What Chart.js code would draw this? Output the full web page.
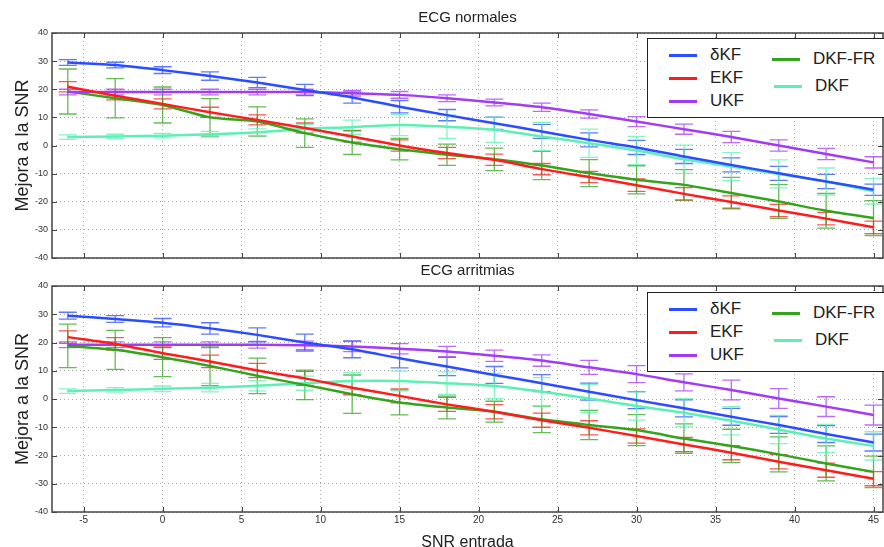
<!DOCTYPE html>
<html>
<head>
<meta charset="utf-8">
<script src="https://cdn.jsdelivr.net/npm/chart.js@4.4.1/dist/chart.umd.min.js"></script>
<style>
  html, body { margin: 0; padding: 0; background: #fff; }
  #wrap { position: relative; width: 884px; height: 547px; overflow: hidden; font-family: "Liberation Sans", Arial, sans-serif; }
  #wrap canvas { position: absolute; left: 0; top: 0; }
  .legend { position: absolute; left: 647px; width: 250px; height: 78px; border: 1px solid #222; background: #fff; }
  .item { position: absolute; font-size: 17px; color: #222; line-height: 20px; }
  .item span.ln { display: inline-block; width: 28px; height: 3px; vertical-align: middle; margin-right: 13px; }
</style>
</head>
<body>
<div id="wrap">
  <canvas id="top" width="884" height="547"></canvas>
  <canvas id="bot" width="884" height="547"></canvas>
</div>
<script>
const snr = [-6, -3, 0, 3, 6, 9, 12, 15, 18, 21, 24, 27, 30, 33, 36, 39, 42, 45];
const seriesNames = ['δKF', 'EKF', 'UKF', 'DKF-FR', 'DKF'];
const colors = ['#2b4cff', '#ff1c1c', '#a23cf4', '#34a41c', '#5cf0b4'];

// ECG normales
const dKF_n   = [29.5, 28.6, 26.8, 24.7, 22.4, 19.7, 17.1, 13.8, 10.8, 7.9, 5.0, 2.0, -0.7, -3.9, -6.9, -9.9, -12.8, -15.7];
const EKF_n   = [20.9, 17.7, 14.8, 11.8, 9.1, 6.2, 3.2, 0.0, -2.7, -5.1, -8.4, -11.2, -14.1, -17.2, -20.1, -23.1, -26.0, -29.1];
const UKF_n   = [19.0, 19.0, 19.0, 19.0, 19.0, 19.0, 18.6, 18.0, 16.8, 15.3, 13.6, 11.2, 8.5, 5.8, 3.0, 0.0, -3.0, -6.0];
const DKFFR_n = [19.2, 16.8, 14.4, 10.0, 8.5, 4.4, 1.1, -1.3, -3.3, -4.9, -7.1, -9.8, -12.2, -14.0, -16.9, -19.9, -23.2, -25.8];
const DKF_n   = [3.0, 3.2, 3.5, 4.0, 4.7, 5.9, 6.5, 7.3, 6.7, 5.6, 3.2, 0.8, -1.8, -4.9, -7.5, -10.1, -12.8, -16.3];
const err_dKF_n   = [1, 1, 1.2, 1.5, 1.8, 2, 2, 2.2, 2, 2.2, 2.5, 2.5, 2.5, 2.5, 2.5, 2.5, 2.5, 2];
const err_EKF_n   = [1.8, 1.5, 1.8, 1.8, 1.8, 1.8, 2, 2, 2, 2, 2, 2, 2.2, 2.2, 2.2, 2.2, 2.2, 2.2];
const err_UKF_n   = [1, 1, 1, 1, 1, 1, 1, 1.2, 1.2, 1.2, 1.5, 1.5, 1.8, 1.8, 2, 2, 2, 2];
const err_DKFFR_n = [8, 7, 6.4, 6.7, 5.2, 5.1, 4.3, 3.8, 3.8, 4, 5, 4.8, 5, 5.4, 5.6, 6, 6.2, 6.2];
const err_DKF_n   = [0.8, 0.8, 0.8, 1, 1.2, 1.5, 2.5, 3.8, 4.2, 4.5, 5, 5, 5, 5, 5, 5, 4.8, 4.5];

// ECG arritmias
const dKF_a   = [29.5, 28.3, 27.0, 25.0, 22.7, 20.0, 17.6, 14.4, 11.5, 8.5, 5.6, 2.6, -0.4, -3.3, -6.3, -9.2, -12.4, -15.4];
const EKF_a   = [21.9, 19.5, 16.2, 13.3, 10.1, 7.3, 4.0, 1.1, -1.9, -4.5, -7.5, -10.2, -13.1, -16.1, -19.0, -22.2, -25.2, -28.2];
const UKF_a   = [19.2, 19.2, 19.2, 19.2, 19.2, 19.0, 18.6, 17.8, 16.8, 15.3, 13.6, 11.2, 8.8, 5.9, 3.2, 0.2, -2.7, -5.7];
const DKFFR_a = [18.8, 17.4, 14.8, 11.7, 8.2, 5.0, 1.7, -1.2, -3.0, -4.5, -7.2, -9.2, -11.0, -14.0, -16.6, -19.6, -22.8, -25.8];
const DKF_a   = [2.8, 3.2, 3.6, 4.0, 4.7, 5.6, 6.4, 6.4, 5.6, 4.6, 2.6, 0.2, -2.5, -4.9, -7.7, -10.8, -14.0, -16.6];
const err_dKF_a   = [1.2, 1.2, 1.5, 2, 2.5, 3, 3, 3.4, 3.2, 3, 3, 3, 3, 3, 3, 3, 3, 3];
const err_EKF_a   = [2.2, 2.2, 2.2, 2.2, 2.5, 2.5, 2.5, 2.5, 2.5, 2.5, 2.5, 2.5, 2.5, 2.5, 2.5, 2.5, 2.5, 2.5];
const err_UKF_a   = [1, 1, 1, 1, 1.2, 1.5, 1.8, 1.8, 1.8, 2, 2, 2.5, 3, 3, 3.5, 3.5, 3.5, 3.5];
const err_DKFFR_a = [7.7, 6.9, 6.9, 7, 6.3, 5.2, 6.8, 4.4, 4, 3.7, 4.7, 5.2, 5.5, 5.2, 5.9, 6.2, 6.2, 5.6];
const err_DKF_a   = [0.8, 0.8, 1, 1.5, 1.8, 2.5, 3, 3.5, 4, 4.5, 5, 5, 5, 5, 5, 5, 5, 5];

const FONT = '"Liberation Sans", Arial, sans-serif';

// error bars, frame, inward ticks and the subplot title
const matlabLook = {
  id: 'matlabLook',
  beforeDatasetsDraw(chart) {
    const ctx = chart.ctx, xs = chart.scales.x, ys = chart.scales.y;
    ctx.save();
    chart.data.datasets.forEach((ds, k) => {
      ctx.strokeStyle = ds.borderColor;
      ctx.globalAlpha = 0.75;
      ctx.lineWidth = 1.3;
      ds.data.forEach((p, i) => {
        const e = ds.errors[i];
        const x = xs.getPixelForValue(p.x);
        const y1 = ys.getPixelForValue(p.y + e), y2 = ys.getPixelForValue(p.y - e);
        ctx.beginPath();
        ctx.moveTo(x, y1); ctx.lineTo(x, y2);
        ctx.moveTo(x - 9, y1); ctx.lineTo(x + 9, y1);
        ctx.moveTo(x - 9, y2); ctx.lineTo(x + 9, y2);
        ctx.stroke();
      });
    });
    ctx.restore();
  },
  afterDraw(chart) {
    const ctx = chart.ctx, a = chart.chartArea;
    const xs = chart.scales.x, ys = chart.scales.y;
    ctx.save();
    ctx.strokeStyle = '#444';
    ctx.lineWidth = 1.5;
    ctx.strokeRect(a.left, a.top, a.right - a.left, a.bottom - a.top);
    ctx.lineWidth = 1;
    ctx.beginPath();
    xs.ticks.forEach(t => {
      const x = Math.round(xs.getPixelForValue(t.value)) + 0.5;
      ctx.moveTo(x, a.bottom); ctx.lineTo(x, a.bottom - 5);
      ctx.moveTo(x, a.top); ctx.lineTo(x, a.top + 5);
    });
    ys.ticks.forEach(t => {
      const y = Math.round(ys.getPixelForValue(t.value)) + 0.5;
      ctx.moveTo(a.left, y); ctx.lineTo(a.left + 5, y);
      ctx.moveTo(a.right, y); ctx.lineTo(a.right - 5, y);
    });
    ctx.stroke();
    ctx.fillStyle = '#222';
    ctx.font = '15px ' + FONT;
    ctx.textAlign = 'center';
    ctx.textBaseline = 'middle';
    ctx.fillText(chart.options.subTitle, (a.left + a.right) / 2, a.top - 15);
    ctx.restore();
  }
};

function makeChart(id, subTitle, vals, errs, padTop, padBottom, showX) {
  return new Chart(document.getElementById(id).getContext('2d'), {
    type: 'line',
    data: {
      datasets: vals.map((v, k) => ({
        label: seriesNames[k],
        data: snr.map((x, i) => ({ x: x, y: v[i] })),
        errors: errs[k],
        borderColor: colors[k],
        backgroundColor: colors[k],
        borderWidth: 2.5,
        pointRadius: 0,
        tension: 0.25,
        fill: false
      }))
    },
    options: {
      subTitle: subTitle,
      responsive: false,
      animation: false,
      layout: { padding: { top: padTop, bottom: padBottom, left: 0, right: 1 } },
      plugins: { legend: { display: false }, tooltip: { enabled: false } },
      scales: {
        x: {
          type: 'linear', min: -7, max: 45.6,
          ticks: { display: showX, stepSize: 5, includeBounds: false, padding: 2, color: '#333', font: { family: FONT, size: 10 } },
          grid: { color: '#a8a8a8', drawTicks: false },
          border: { display: false, dash: [1, 3] },
          title: { display: showX, text: 'SNR entrada', color: '#222', font: { family: FONT, size: 16 }, padding: { top: -5, bottom: -5 } },
          afterFit: s => { s.height = showX ? 35 : 0; }
        },
        y: {
          min: -40, max: 40,
          ticks: { stepSize: 10, padding: 4, color: '#333', font: { family: FONT, size: 9 } },
          grid: { color: '#a8a8a8', drawTicks: false },
          border: { display: false, dash: [1, 3] },
          title: { display: true, text: 'Mejora a la SNR', color: '#222', font: { family: FONT, size: 18 }, padding: { top: 12 } },
          afterFit: s => { s.width = 52; }
        }
      }
    },
    plugins: [matlabLook]
  });
}

makeChart('top', 'ECG normales',
  [dKF_n, EKF_n, UKF_n, DKFFR_n, DKF_n],
  [err_dKF_n, err_EKF_n, err_UKF_n, err_DKFFR_n, err_DKF_n], 33, 289, false);
makeChart('bot', 'ECG arritmias',
  [dKF_a, EKF_a, UKF_a, DKFFR_a, DKF_a],
  [err_dKF_a, err_EKF_a, err_UKF_a, err_DKFFR_a, err_DKF_a], 286, 0, true);

// legends (two columns, like the original)
const legendPos = [[21, 16], [21, 39], [21, 62], [124, 20], [126, 47]];
[38, 292].forEach(top => {
  const box = document.createElement('div');
  box.className = 'legend';
  box.style.top = top + 'px';
  seriesNames.forEach((n, k) => {
    const it = document.createElement('div');
    it.className = 'item';
    it.style.left = legendPos[k][0] + 'px';
    it.style.top = (legendPos[k][1] - 10) + 'px';
    it.innerHTML = '<span class="ln" style="background:' + colors[k] + '"></span>' + n;
    box.appendChild(it);
  });
  document.getElementById('wrap').appendChild(box);
});
</script>
</body>
</html>
